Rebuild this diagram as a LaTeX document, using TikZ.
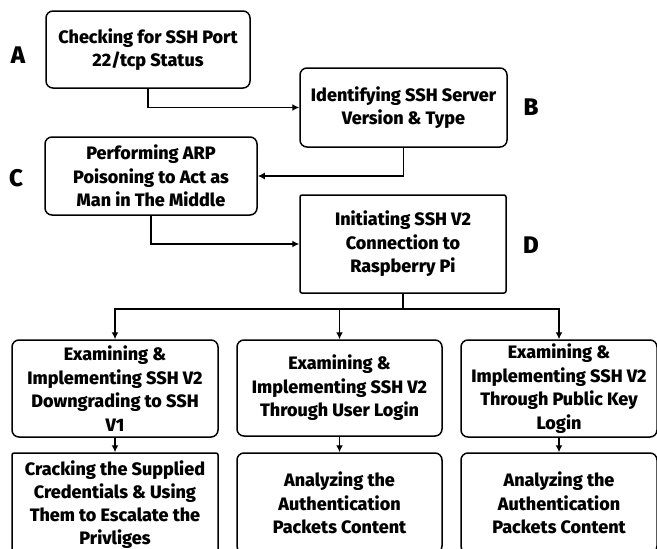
\documentclass[tikz,border=0pt]{standalone}
\usepackage{fontspec}
\setmainfont{Fira Sans}[BoldFont={Fira Sans ExtraBold}]
\usetikzlibrary{arrows.meta}

\begin{document}
\begin{tikzpicture}[x=1pt, y=-1pt,
    stage/.style={draw, line width=1.5pt, rounded corners=7pt, align=center,
      font=\fontsize{18}{23.5}\selectfont\bfseries, inner sep=0pt},
    letter/.style={font=\fontsize{24}{26}\selectfont\bfseries},
    arr/.style={line width=1.5pt, -{Latex[length=7pt,width=7pt]}}]
      \useasboundingbox (0,0) rectangle (657,549);
      \clip (0,0) rectangle (657,549);

      % Main stages
      \node[stage, minimum width=204pt, minimum height=77pt] (A) at (148,49.5)
        {Checking for SSH Port\\22/tcp Status};
      \node[stage, minimum width=207pt, minimum height=79pt] (B) at (403.5,107.5)
        {Identifying SSH Server\\Version \& Type};
      \node[stage, minimum width=212pt, minimum height=78pt] (C) at (151,176)
        {Performing ARP\\Poisoning to Act as\\Man in The Middle};
      \node[stage, rounded corners=2pt, minimum width=206pt, minimum height=98pt] (D) at (403,244)
        {Initiating SSH V2\\Connection to\\Raspberry Pi};

      % Stage letters
      \node[letter] (la) at (18,55) {A};
      \node[letter] (lb) at (531,107) {B};
      \node[letter] (lc) at (16,178) {C};
      \node[letter] (ld) at (531,245) {D};

      % Attack branches
      \node[stage, minimum width=206pt, minimum height=97pt] (E1) at (115,388.5)
        {Examining \&\\Implementing SSH V2\\Downgrading to SSH\\V1};
      \node[stage, minimum width=205pt, minimum height=96pt] (E2) at (339.5,388)
        {Examining \&\\Implementing SSH V2\\Through User Login};
      \node[stage, minimum width=196pt, minimum height=97pt] (E3) at (559,388.5)
        {Examining \&\\Implementing SSH V2\\Through Public Key\\Login};

      % Results
      \node[stage, rounded corners=2pt, minimum width=206pt, minimum height=104pt,
        font=\fontsize{18}{23}\selectfont\bfseries] (F1) at (115,505)
        {Cracking the Supplied\\Credentials \& Using\\Them to Escalate the\\Privliges};
      \node[stage, minimum width=205pt, minimum height=100pt] (F2) at (339.5,503)
        {Analyzing the\\Authentication\\Packets Content};
      \node[stage, minimum width=196pt, minimum height=100pt] (F3) at (559,503)
        {Analyzing the\\Authentication\\Packets Content};

      % Connectors
      \draw[arr] (A.south) |- (B.west);
      \draw[arr] (B.south) |- (C.east);
      \draw[arr] (C.south) |- (D.west);
      \draw[line width=1.5pt] (D.south) -- ++(0,15) coordinate (split);
      \draw[arr] (split) -| (E1.north);
      \draw[arr] (split) -| (E2.north);
      \draw[arr] (split) -| (E3.north);
      \draw[arr] (E1) -- (F1);
      \draw[arr] (E2) -- (F2);
      \draw[arr] (E3) -- (F3);
\end{tikzpicture}
\end{document}
